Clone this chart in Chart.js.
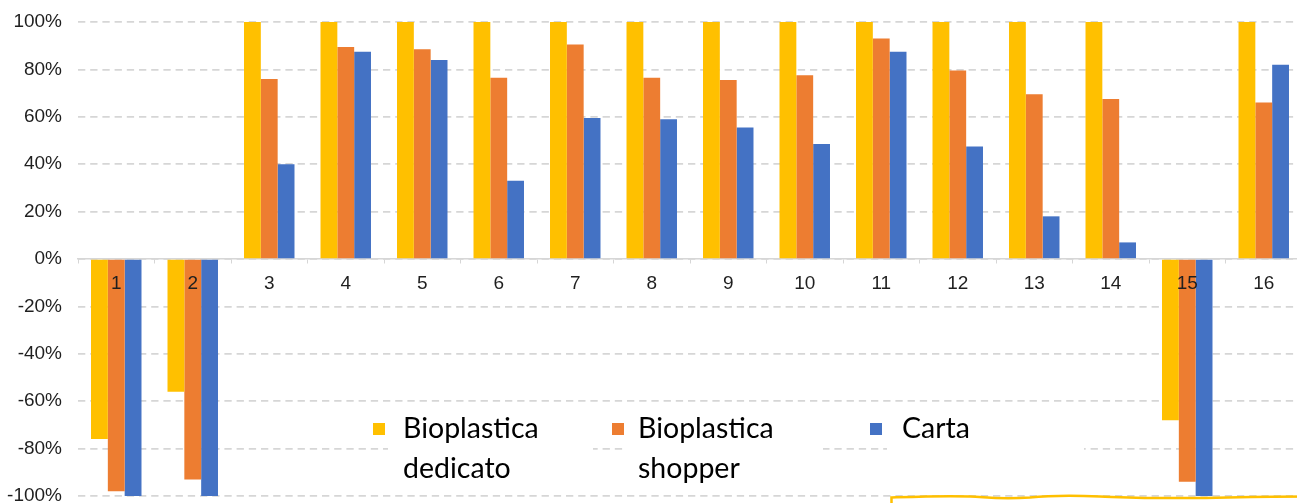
<!DOCTYPE html>
<html>
<head>
<meta charset="utf-8">
<script src="https://cdn.jsdelivr.net/npm/chart.js@4/dist/chart.umd.min.js"></script>
<style>
  html, body { margin: 0; padding: 0; overflow: hidden; background: #fff; }
  #wrap { position: relative; width: 1310px; height: 503px; }
</style>
</head>
<body>
<div id="wrap"><canvas id="c"></canvas></div>
<script>
// Categories and series (percent change)
const categories = ['1', '2', '3', '4', '5', '6', '7', '8', '9', '10', '11', '12', '13', '14', '15', '16'];
const seriesNames = ['Bioplastica dedicato', 'Bioplastica shopper', 'Carta'];
const bioplasticaDedicato = [-76, -56, 100, 100, 100, 100, 100, 100, 100, 100, 100, 100, 100, 100, -68, 100];
const bioplasticaShopper  = [-98, -93, 76, 89.5, 88.5, 76.5, 90.5, 76.5, 75.5, 77.5, 93, 79.5, 69.5, 67.5, -94, 66];
const carta               = [-100, -100, 40, 87.5, 84, 33, 59.5, 59, 55.5, 48.5, 87.5, 47.5, 18, 7, -100, 82];
const yMin = -100, yMax = 100, yStep = 20;

const seriesColors = ['#FFC000', '#ED7D31', '#4472C4'];
const TEXT = '#1f1f1f';
const GRID = '#d6d6d6';

// Legend drawn inside the plot, each label wrapped onto two lines
const innerLegend = {
  id: 'innerLegend',
  afterDraw(chart) {
    const ctx = chart.ctx;
    const markerX = [373, 612, 870];
    const textX = [403, 638, 902];
    const boxW = [205, 200, 197];
    ctx.save();
    chart.data.datasets.forEach((ds, i) => {
      ctx.fillStyle = '#fff';
      ctx.fillRect(textX[i] - 15, 406, boxW[i], 82);
      ctx.fillStyle = ds.backgroundColor;
      ctx.fillRect(markerX[i], 423, 12, 12);
      ctx.fillStyle = '#000';
      ctx.font = '28.5px Lato';
      ctx.textBaseline = 'alphabetic';
      ctx.textAlign = 'left';
      ds.label.split(' ').forEach((line, k) => {
        ctx.fillText(line, textX[i], 438 + k * 40);
      });
    });
    ctx.restore();
  }
};

// Hand-drawn highlight stroke along the lower right edge
const highlightStroke = {
  id: 'highlightStroke',
  afterDraw(chart) {
    const ctx = chart.ctx;
    ctx.save();
    ctx.strokeStyle = '#FFC000';
    ctx.lineWidth = 2.5;
    ctx.beginPath();
    ctx.moveTo(891.5, 504);
    ctx.lineTo(891.5, 497.5);
    ctx.bezierCurveTo(920, 496.5, 945, 495.5, 970, 496.5);
    ctx.bezierCurveTo(990, 497.5, 1000, 499.5, 1030, 497.5);
    ctx.bezierCurveTo(1050, 495.5, 1075, 495.5, 1100, 496.5);
    ctx.bezierCurveTo(1130, 497.5, 1150, 498.5, 1190, 498);
    ctx.bezierCurveTo(1230, 497.5, 1260, 496.5, 1310, 496.5);
    ctx.stroke();
    ctx.restore();
  }
};

const allSeries = [bioplasticaDedicato, bioplasticaShopper, carta];

new Chart(document.getElementById('c'), {
  type: 'bar',
  data: {
    labels: categories,
    datasets: allSeries.map((vals, i) => ({
      label: seriesNames[i],
      data: vals,
      backgroundColor: seriesColors[i],
      borderWidth: 0,
      categoryPercentage: 0.66,
      barPercentage: 1.0
    }))
  },
  options: {
    responsive: true,
    maintainAspectRatio: false,
    animation: false,
    layout: { padding: { top: 22, bottom: 7, left: 0, right: 8 } },
    plugins: {
      legend: { display: false },
      tooltip: { enabled: false }
    },
    scales: {
      x: {
        position: { y: 0 },
        grid: {
          display: true,
          drawOnChartArea: false,
          drawTicks: true,
          tickLength: 4,
          color: GRID,
          offset: true
        },
        border: { display: true, color: GRID, width: 1.5 },
        ticks: {
          z: 1,
          color: TEXT,
          font: { family: 'Liberation Sans', size: 19 },
          padding: 9,
          maxRotation: 0,
          autoSkip: false
        }
      },
      y: {
        min: yMin,
        max: yMax,
        grid: {
          color: GRID,
          lineWidth: 1.7,
          drawTicks: false
        },
        border: { display: false, dash: [7.3, 4.9] },
        ticks: {
          stepSize: yStep,
          color: TEXT,
          font: { family: 'Liberation Sans', size: 19 },
          padding: 16,
          callback: v => v + '%'
        },
        afterFit(scale) {
          scale.width = 78;
          scale.paddingTop = 0;
          scale.paddingBottom = 0;
        }
      }
    }
  },
  plugins: [innerLegend, highlightStroke]
});
</script>
</body>
</html>
